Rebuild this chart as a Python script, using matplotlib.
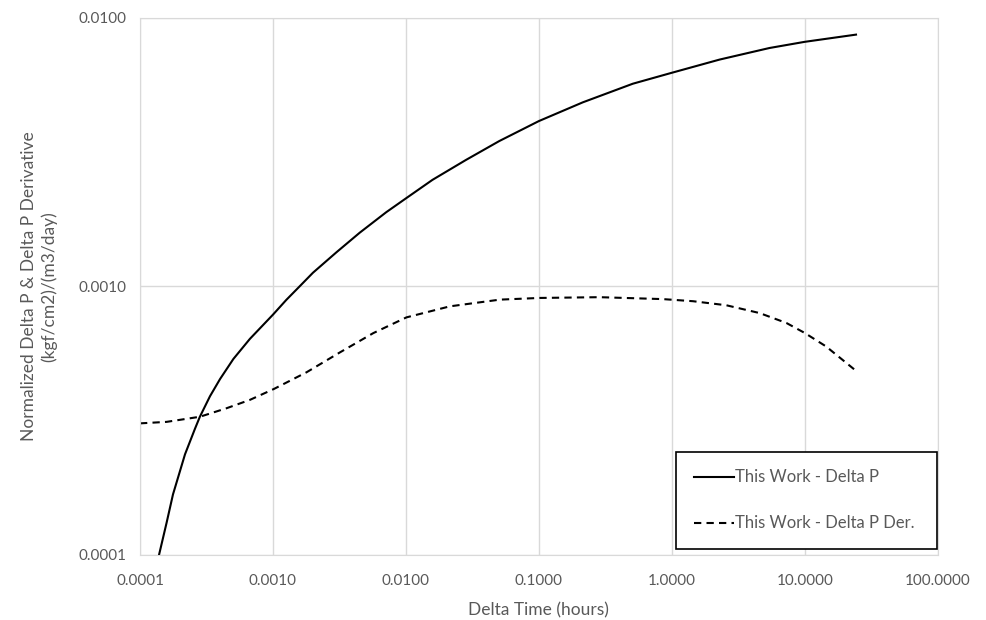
import matplotlib
matplotlib.use('Agg')
import matplotlib.pyplot as plt
from matplotlib.ticker import FixedLocator, FuncFormatter, NullLocator

# Delta P curve (time in hours, normalized delta P)
dp_time = [1.39e-4, 1.585e-4, 1.77e-4, 2.18e-4, 2.59e-4, 2.82e-4, 3.36e-4, 4.00e-4,
           5.04e-4, 6.71e-4, 1.0e-3, 1.26e-3, 1.585e-3, 2.0e-3, 3.0e-3, 4.49e-3,
           7.11e-3, 0.01, 0.01585, 0.02825, 0.0504, 0.1, 0.214, 0.509, 1.0,
           2.29, 5.43, 10.0, 24.3]
dp_vals = [1.0e-4, 1.318e-4, 1.68e-4, 2.37e-4, 2.95e-4, 3.27e-4, 3.90e-4, 4.52e-4,
           5.37e-4, 6.38e-4, 7.85e-4, 8.91e-4, 1.0e-3, 1.125e-3, 1.34e-3, 1.585e-3,
           1.89e-3, 2.128e-3, 2.495e-3, 2.958e-3, 3.48e-3, 4.13e-3, 4.85e-3,
           5.69e-3, 6.25e-3, 7.00e-3, 7.73e-3, 8.15e-3, 8.67e-3]

# Derivative curve
der_time = [1.0e-4, 1.585e-4, 2.82e-4, 4.49e-4, 6.71e-4, 1.016e-3, 1.79e-3, 3.19e-3,
            5.68e-3, 0.0101, 0.0214, 0.0509, 0.101, 0.286, 0.859, 1.445, 2.57,
            4.57, 7.28, 10.0, 14.45, 24.3]
der_vals = [3.09e-4, 3.13e-4, 3.27e-4, 3.52e-4, 3.78e-4, 4.15e-4, 4.79e-4, 5.68e-4,
            6.70e-4, 7.67e-4, 8.43e-4, 8.93e-4, 9.06e-4, 9.12e-4, 8.97e-4, 8.81e-4,
            8.51e-4, 7.96e-4, 7.31e-4, 6.71e-4, 5.98e-4, 4.85e-4]

x_ticks = [0.0001, 0.001, 0.01, 0.1, 1, 10, 100]
y_ticks = [0.0001, 0.001, 0.01]

plt.rcParams['font.family'] = ['Lato', 'DejaVu Sans']
grey = '#595959'

fig = plt.figure(figsize=(9.86, 6.2), dpi=100)
ax = fig.add_axes([0.142, 0.105, 0.809, 0.866])

ax.plot(dp_time, dp_vals, color='black', lw=1.5, label='This Work - Delta P')
ax.plot(der_time, der_vals, color='black', lw=1.5, linestyle=(0, (3.5, 2.5)),
        label='This Work - Delta P Der.')

ax.set_xscale('log')
ax.set_yscale('log')
ax.set_xlim(0.0001, 100)
ax.set_ylim(0.0001, 0.01)

ax.xaxis.set_major_locator(FixedLocator(x_ticks))
ax.yaxis.set_major_locator(FixedLocator(y_ticks))
ax.xaxis.set_minor_locator(NullLocator())
ax.yaxis.set_minor_locator(NullLocator())
fmt = FuncFormatter(lambda v, p: f'{v:.4f}')
ax.xaxis.set_major_formatter(fmt)
ax.yaxis.set_major_formatter(fmt)
ax.tick_params(length=0, labelsize=11, colors=grey)
ax.tick_params(axis='x', pad=14)
ax.tick_params(axis='y', pad=10)

ax.grid(True, color='#d9d9d9', lw=1)
ax.set_axisbelow(True)
for s in ax.spines.values():
    s.set_color('#d9d9d9')

ax.set_xlabel('Delta Time (hours)', fontsize=12.5, color=grey, labelpad=10)
ax.set_ylabel('Normalized Delta P & Delta P Derivative\n(kgf/cm2)/(m3/day)',
              fontsize=12.5, color=grey, labelpad=15, linespacing=1.3)

leg = ax.legend(loc='lower left', bbox_to_anchor=(0.672, 0.011, 0.327, 0.173),
                mode='expand', borderaxespad=0, fancybox=False, framealpha=1,
                edgecolor='black', fontsize=12, handlelength=2.4,
                handletextpad=0.1, labelspacing=1.8, borderpad=1.05,
                labelcolor=grey)
leg.get_frame().set_linewidth(1.2)

fig.savefig('out.png', dpi=100)
